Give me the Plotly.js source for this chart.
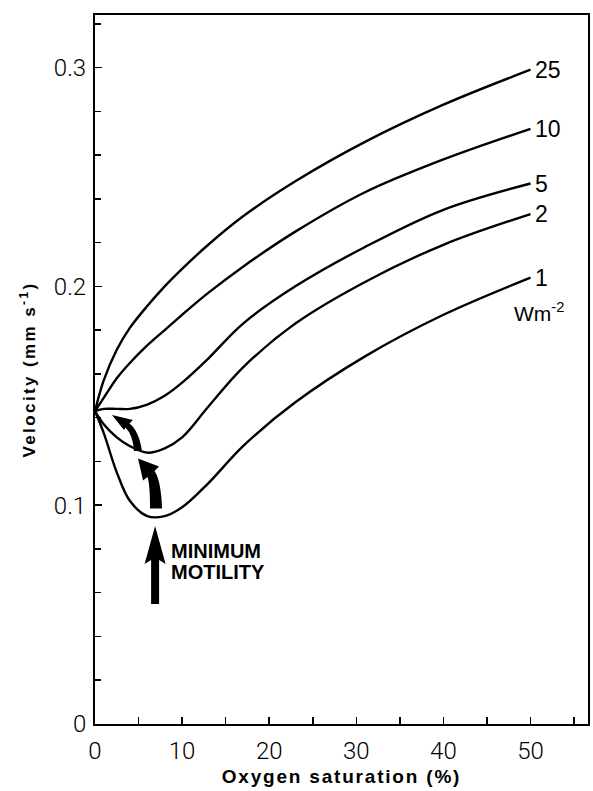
<!DOCTYPE html>
<html>
<head>
<meta charset="utf-8">
<script src="https://cdn.plot.ly/plotly-3.0.1.min.js"></script>
<style>
html,body{margin:0;padding:0;background:#fff;}
#chart{width:593px;height:791px;}
.xtitle{letter-spacing:1.8px;}
.ytitle{letter-spacing:2.4px;}
</style>
</head>
<body>
<div id="chart"></div>
<script>
// Oxygen saturation (%) sample points
const oxygenSat = [0, 1, 2.5, 4, 6, 8, 10, 13, 17, 23, 31, 40, 50];
// Velocity (mm s^-1) for each irradiance (W m^-2)
const vel25 = [0.143,0.157,0.171,0.181,0.191,0.200,0.208,0.219,0.232,0.248,0.266,0.283,0.299];
const vel10 = [0.143,0.149,0.158,0.165,0.173,0.180,0.187,0.197,0.209,0.225,0.243,0.258,0.272];
const vel5  = [0.143,0.144,0.144,0.144,0.146,0.150,0.156,0.167,0.183,0.200,0.218,0.235,0.247];
const vel2  = [0.143,0.137,0.131,0.127,0.124,0.126,0.131,0.145,0.163,0.183,0.202,0.219,0.233];
const vel1  = [0.143,0.133,0.115,0.102,0.095,0.095,0.099,0.110,0.127,0.147,0.168,0.187,0.204];
const seriesNames = ['25','10','5','2','1'];
const seriesVals = [vel25, vel10, vel5, vel2, vel1];
const unitLabel = 'Wm<sup>-2</sup>';
const yTickVals = [0, 0.1, 0.2, 0.3];
const yTickText = ['0', '0.1', '0.2', '0.3'];
const xTickVals = [0, 10, 20, 30, 40, 50];
const xTickText = ['0', '10', '20', '30', '40', '50'];
const noteLines = ['MINIMUM', 'MOTILITY'];
// arrow anchor points (data coords)
const minArrowTip = [6.9, 0.0905];
const curvedArrowTips = [[4.94, 0.1213], [1.95, 0.1412]];

const traces = seriesVals.map((v, i) => ({
  type: 'scatter', mode: 'lines', name: seriesNames[i] + ' W m-2',
  x: oxygenSat, y: v,
  line: {color: '#000', width: 2.4, shape: 'spline', smoothing: 1.0},
  hoverinfo: 'skip', showlegend: false
}));

const lastIdx = oxygenSat.length - 1;
const labelFont = {family: 'Liberation Sans, Arial, sans-serif', size: 23, color: '#000'};
const annotations = seriesVals.map((v, i) => ({
  x: oxygenSat[lastIdx], y: v[lastIdx], xref: 'x', yref: 'y',
  text: seriesNames[i], showarrow: false, xanchor: 'left', yanchor: 'middle',
  xshift: 2, font: labelFont
}));
annotations.push({
  x: oxygenSat[lastIdx], y: vel1[lastIdx], xref: 'x', yref: 'y',
  text: unitLabel, showarrow: false, xanchor: 'left', yanchor: 'middle',
  xshift: -19, yshift: -34, font: {family: 'Liberation Sans, Arial, sans-serif', size: 21, color: '#000'}
});
noteLines.forEach((t, i) => annotations.push({
  x: minArrowTip[0], y: minArrowTip[1], xref: 'x', yref: 'y',
  text: t, showarrow: false, xanchor: 'left', yanchor: 'middle',
  xshift: 14, yshift: -25 - 21 * i,
  font: {family: 'Liberation Sans, Arial, sans-serif', size: 20, color: '#000', weight: 'bold'}
}));

const shapes = [
  {type: 'path', xref: 'x', yref: 'y', xsizemode: 'pixel', ysizemode: 'pixel',
   xanchor: minArrowTip[0], yanchor: minArrowTip[1],
   path: 'M0,0 L10.5,-38 L4,-34 L4,-78 L-4,-78 L-4,-34 L-10.5,-38 Z',
   fillcolor: '#000', line: {width: 0}},
  {type: 'path', xref: 'x', yref: 'y', xsizemode: 'pixel', ysizemode: 'pixel',
   xanchor: curvedArrowTips[0][0], yanchor: curvedArrowTips[0][1],
   path: 'M0,0 L21,-8 L16.5,-12.5 Q23,-22 24,-50 L12,-50 Q12,-26 9.5,-18.5 L5,-22 Z',
   fillcolor: '#000', line: {width: 0}},
  {type: 'path', xref: 'x', yref: 'y', xsizemode: 'pixel', ysizemode: 'pixel',
   xanchor: curvedArrowTips[1][0], yanchor: curvedArrowTips[1][1],
   path: 'M0,0 L21,-5 L17.5,-8.5 Q27,-16 30,-36 L22,-36 Q21,-20 13.5,-12.5 L12,-15 Z',
   fillcolor: '#000', line: {width: 0}}
];

const tickFont = {family: 'Roboto, Liberation Sans, sans-serif', size: 24, color: '#000', weight: 300};
const xTitleFont = {family: 'Liberation Sans, Arial, sans-serif', size: 19, color: '#000', weight: 'bold'};
const yTitleFont = {family: 'Liberation Sans, Arial, sans-serif', size: 17, color: '#000', weight: 'bold'};

const layout = {
  width: 593, height: 791,
  margin: {l: 95, r: 5, t: 15, b: 67, pad: 0},
  paper_bgcolor: '#fff', plot_bgcolor: '#fff',
  showlegend: false,
  xaxis: {
    range: [0, 56.6], showgrid: false, zeroline: false,
    showline: true, linecolor: '#000', linewidth: 2, mirror: true,
    ticks: 'inside', ticklen: 7, tickwidth: 1.5, tickcolor: '#000',
    tickvals: xTickVals, ticktext: xTickText, tickfont: tickFont,
    ticklabelstandoff: 4,
    minor: {dtick: 5, ticks: 'inside', ticklen: 7, tickwidth: 1.5, tickcolor: '#000', showgrid: false},
    title: {text: 'Oxygen saturation (%)', font: xTitleFont, standoff: 6}
  },
  yaxis: {
    range: [0, 0.324], showgrid: false, zeroline: false,
    showline: true, linecolor: '#000', linewidth: 2, mirror: true,
    ticks: 'inside', ticklen: 7, tickwidth: 1.5, tickcolor: '#000',
    tickvals: yTickVals, ticktext: yTickText, tickfont: tickFont,
    ticklabelstandoff: 2,
    minor: {dtick: 0.02, ticks: 'inside', ticklen: 6, tickwidth: 1.5, tickcolor: '#000', showgrid: false},
    title: {text: 'Velocity (mm s<sup>-1</sup>)', font: yTitleFont, standoff: 14}
  },
  annotations: annotations,
  shapes: shapes
};

Plotly.newPlot('chart', traces, layout, {displayModeBar: false, staticPlot: true});
</script>
</body>
</html>
